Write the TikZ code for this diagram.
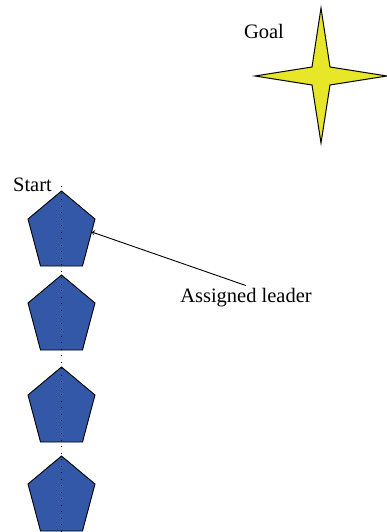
\documentclass[tikz,border=0pt]{standalone}
\usepackage{fontspec}
\setmainfont{Liberation Serif}
\usepackage{xcolor}
\definecolor{agentblue}{RGB}{52,88,168}
\definecolor{goalyellow}{RGB}{232,230,40}

\begin{document}
\begin{tikzpicture}[x=1pt,y=-1pt,
    agent/.style={draw=black,fill=agentblue,line width=0.9pt,line join=miter},
    lbl/.style={inner sep=0pt,font=\fontsize{20.5}{24}\selectfont}]
					\useasboundingbox (0,0) rectangle (387,532);
					% the goal star
					\draw[fill=goalyellow,line width=1pt] (321,8)--(330,67)--(387,76)--(330,85)--(321,143)--(312,85)--(255,76)--(312,67)--cycle;
					\node[lbl,anchor=base] (goal) at (264,39) {Goal};
					% column of agents
					\foreach \y in {191,275,367,456}{
						\draw[agent] (61.5,\y)--++(33.5,28)--++(-12.5,47)--++(-42,0)--++(-12.5,-47)--cycle;
					}
					\coordinate (p1) at (91.8,232);
					\draw[dash pattern=on 1.3pt off 5.2pt,line width=1.2pt] (61.5,186)--(61.5,532);
					\node[lbl,anchor=base] (start) at (32.5,191) {Start};
					\node[lbl,anchor=base] (leader) at (246,302) {Assigned leader};
					\draw[->,line width=0.9pt] ([yshift=2pt]leader.north) -- (p1);
			\end{tikzpicture}
\end{document}
